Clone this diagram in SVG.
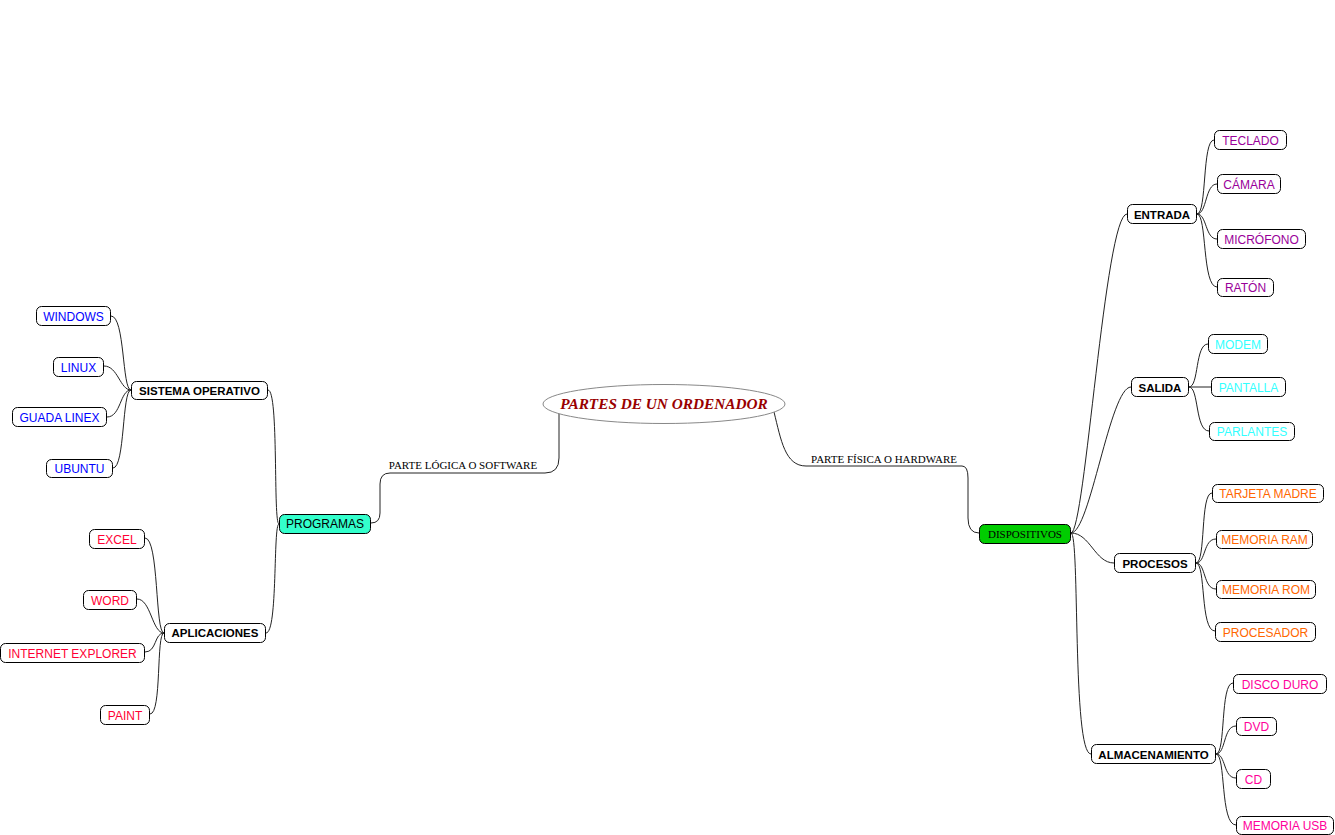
<svg xmlns="http://www.w3.org/2000/svg" width="1335" height="835" viewBox="0 0 1335 835">
<style>
.box{fill:#fff;stroke:#000;stroke-width:1}
.lnk{fill:none;stroke:#222;stroke-width:1}
.t{font-family:"Liberation Sans",Arial,sans-serif;font-size:12px;text-anchor:middle}
.b{font-weight:bold;font-size:11.5px;fill:#000}
.s{font-family:"Liberation Serif","Times New Roman",serif;font-size:11px;fill:#000}
.blue{fill:#0000ff}.red{fill:#ff0033}.pur{fill:#990099}.cyan{fill:#33ffff}.ora{fill:#ff6600}.pink{fill:#ff0099}
</style>
<rect width="1335" height="835" fill="#fff"/>
<g id="connectors">
<path class="lnk" d="M559,413 L559,458 Q559,473 545,473 L390,473 Q380,473 380,484 L380,513 Q380,523 371,523"/>
<path class="lnk" d="M774,412 C781,440 785,466 806,466 L962,466 Q968,466 968,478 L968,518 Q968,533 979,533"/>
<text class="s" x="463" y="469" text-anchor="middle">PARTE LÓGICA O SOFTWARE</text>
<text class="s" x="884" y="463" text-anchor="middle">PARTE FÍSICA O HARDWARE</text>
<path class="lnk" d="M268,390 C279,390 273,524 279,524"/>
<path class="lnk" d="M266,633 C278,633 273,524 279,524"/>
<path class="lnk" d="M111,316 C125,316 122,390 131,390"/>
<path class="lnk" d="M104,366 C118,366 120,390 131,390"/>
<path class="lnk" d="M107,417 C121,417 120,390 131,390"/>
<path class="lnk" d="M113,468 C125,468 122,390 131,390"/>
<path class="lnk" d="M145,538 C159,538 155,633 164,633"/>
<path class="lnk" d="M137,599 C151,599 152,633 164,633"/>
<path class="lnk" d="M145,652 C157,652 154,633 164,633"/>
<path class="lnk" d="M150,714 C162,714 156,633 164,633"/>
<path class="lnk" d="M1071,533 C1085,533 1105,214 1127,214"/>
<path class="lnk" d="M1071,533 C1090,533 1110,387 1131,387"/>
<path class="lnk" d="M1071,533 C1090,533 1095,563 1114,563"/>
<path class="lnk" d="M1071,533 C1080,533 1072,754 1091,754"/>
<path class="lnk" d="M1197,214 C1207,214 1202,140 1214,140"/>
<path class="lnk" d="M1197,214 C1207,214 1205,184 1217,184"/>
<path class="lnk" d="M1197,214 C1207,214 1205,239 1217,239"/>
<path class="lnk" d="M1197,214 C1207,214 1202,287 1217,287"/>
<path class="lnk" d="M1189,387 C1199,387 1195,344 1208,344"/>
<path class="lnk" d="M1189,387 L1211,387"/>
<path class="lnk" d="M1189,387 C1199,387 1195,431 1209,431"/>
<path class="lnk" d="M1196,563 C1206,563 1200,493 1212,493"/>
<path class="lnk" d="M1196,563 C1206,563 1203,539 1216,539"/>
<path class="lnk" d="M1196,563 C1206,563 1203,589 1216,589"/>
<path class="lnk" d="M1196,563 C1206,563 1200,631 1215,631"/>
<path class="lnk" d="M1216,754 C1226,754 1220,683 1233,683"/>
<path class="lnk" d="M1216,754 C1226,754 1223,726 1236,726"/>
<path class="lnk" d="M1216,754 C1226,754 1223,778 1236,778"/>
<path class="lnk" d="M1216,754 C1226,754 1220,825 1236,825"/>
</g>
<g id="root">
<ellipse cx="664" cy="404" rx="121" ry="19.5" fill="#fff" stroke="#888" stroke-width="1"/>
<text x="664" y="409" text-anchor="middle" font-family="'Liberation Serif','Times New Roman',serif" font-size="15.3" font-weight="bold" font-style="italic" fill="#990000">PARTES DE UN ORDENADOR</text>
</g>
<g id="programas"><rect class="box" x="279.5" y="514.5" width="91" height="19" rx="5" style="fill:#33ffcc"/><text class="t" x="325" y="528">PROGRAMAS</text></g>
<g id="dispositivos"><rect class="box" x="979.5" y="524.5" width="91" height="19" rx="5" style="fill:#00cc00"/><text class="s" x="1025" y="538" text-anchor="middle">DISPOSITIVOS</text></g>
<g id="sistema"><rect class="box" x="131.5" y="381.5" width="136" height="18" rx="5"/><text class="t b" x="199.5" y="395">SISTEMA OPERATIVO</text></g>
<g id="aplicaciones"><rect class="box" x="164.5" y="623.5" width="101" height="19" rx="5"/><text class="t b" x="215" y="637">APLICACIONES</text></g>
<g id="windows"><rect class="box" x="36.5" y="306.5" width="74" height="19" rx="5"/><text class="t blue" x="73.5" y="320.5">WINDOWS</text></g>
<g id="linux"><rect class="box" x="53.5" y="357.5" width="50" height="19" rx="5"/><text class="t blue" x="78.5" y="371.5">LINUX</text></g>
<g id="guadalinex"><rect class="box" x="12.5" y="407.5" width="94" height="19" rx="5"/><text class="t blue" x="59.5" y="421.5">GUADA LINEX</text></g>
<g id="ubuntu"><rect class="box" x="46.5" y="459.5" width="66" height="18" rx="5"/><text class="t blue" x="79.5" y="473">UBUNTU</text></g>
<g id="excel"><rect class="box" x="89.5" y="529.5" width="55" height="19" rx="5"/><text class="t red" x="117" y="543.5">EXCEL</text></g>
<g id="word"><rect class="box" x="83.5" y="590.5" width="53" height="19" rx="5"/><text class="t red" x="110" y="604.5">WORD</text></g>
<g id="iexplorer"><rect class="box" x="0.5" y="643.5" width="144" height="19" rx="5"/><text class="t red" x="72.5" y="657.5">INTERNET EXPLORER</text></g>
<g id="paint"><rect class="box" x="100.5" y="705.5" width="49" height="19" rx="5"/><text class="t red" x="125" y="719.5">PAINT</text></g>
<g id="entrada"><rect class="box" x="1127.5" y="204.5" width="69" height="19" rx="5"/><text class="t b" x="1162" y="218.5">ENTRADA</text></g>
<g id="salida"><rect class="box" x="1131.5" y="377.5" width="57" height="19" rx="5"/><text class="t b" x="1160" y="391.5">SALIDA</text></g>
<g id="procesos"><rect class="box" x="1114.5" y="553.5" width="81" height="19" rx="5"/><text class="t b" x="1155" y="567.5">PROCESOS</text></g>
<g id="almacenamiento"><rect class="box" x="1091.5" y="744.5" width="124" height="19" rx="5"/><text class="t b" x="1153.5" y="758.5">ALMACENAMIENTO</text></g>
<g id="teclado"><rect class="box" x="1214.5" y="130.5" width="72" height="19" rx="5"/><text class="t pur" x="1250.5" y="144.5">TECLADO</text></g>
<g id="camara"><rect class="box" x="1217.5" y="174.5" width="63" height="19" rx="5"/><text class="t pur" x="1249" y="188.5">CÁMARA</text></g>
<g id="microfono"><rect class="box" x="1217.5" y="229.5" width="88" height="19" rx="5"/><text class="t pur" x="1261.5" y="243.5">MICRÓFONO</text></g>
<g id="raton"><rect class="box" x="1217.5" y="278.5" width="56" height="18" rx="5"/><text class="t pur" x="1245.5" y="292">RATÓN</text></g>
<g id="modem"><rect class="box" x="1208.5" y="334.5" width="59" height="19" rx="5"/><text class="t cyan" x="1238" y="348.5">MODEM</text></g>
<g id="pantalla"><rect class="box" x="1211.5" y="377.5" width="74" height="19" rx="5"/><text class="t cyan" x="1248.5" y="391.5">PANTALLA</text></g>
<g id="parlantes"><rect class="box" x="1209.5" y="422.5" width="85" height="18" rx="5"/><text class="t cyan" x="1252" y="436">PARLANTES</text></g>
<g id="tarjeta"><rect class="box" x="1212.5" y="484.5" width="111" height="18" rx="5"/><text class="t ora" x="1268" y="498">TARJETA MADRE</text></g>
<g id="ram"><rect class="box" x="1216.5" y="530.5" width="96" height="18" rx="5"/><text class="t ora" x="1264.5" y="544">MEMORIA RAM</text></g>
<g id="rom"><rect class="box" x="1216.5" y="580.5" width="99" height="18" rx="5"/><text class="t ora" x="1266" y="594">MEMORIA ROM</text></g>
<g id="procesador"><rect class="box" x="1215.5" y="622.5" width="100" height="19" rx="5"/><text class="t ora" x="1265.5" y="636.5">PROCESADOR</text></g>
<g id="disco"><rect class="box" x="1233.5" y="674.5" width="93" height="19" rx="5"/><text class="t pink" x="1280" y="688.5">DISCO DURO</text></g>
<g id="dvd"><rect class="box" x="1236.5" y="717.5" width="40" height="18" rx="5"/><text class="t pink" x="1256.5" y="731">DVD</text></g>
<g id="cd"><rect class="box" x="1236.5" y="769.5" width="34" height="19" rx="5"/><text class="t pink" x="1253.5" y="783.5">CD</text></g>
<g id="usb"><rect class="box" x="1236.5" y="816.5" width="97" height="18" rx="5"/><text class="t pink" x="1285" y="830">MEMORIA USB</text></g>
</svg>
